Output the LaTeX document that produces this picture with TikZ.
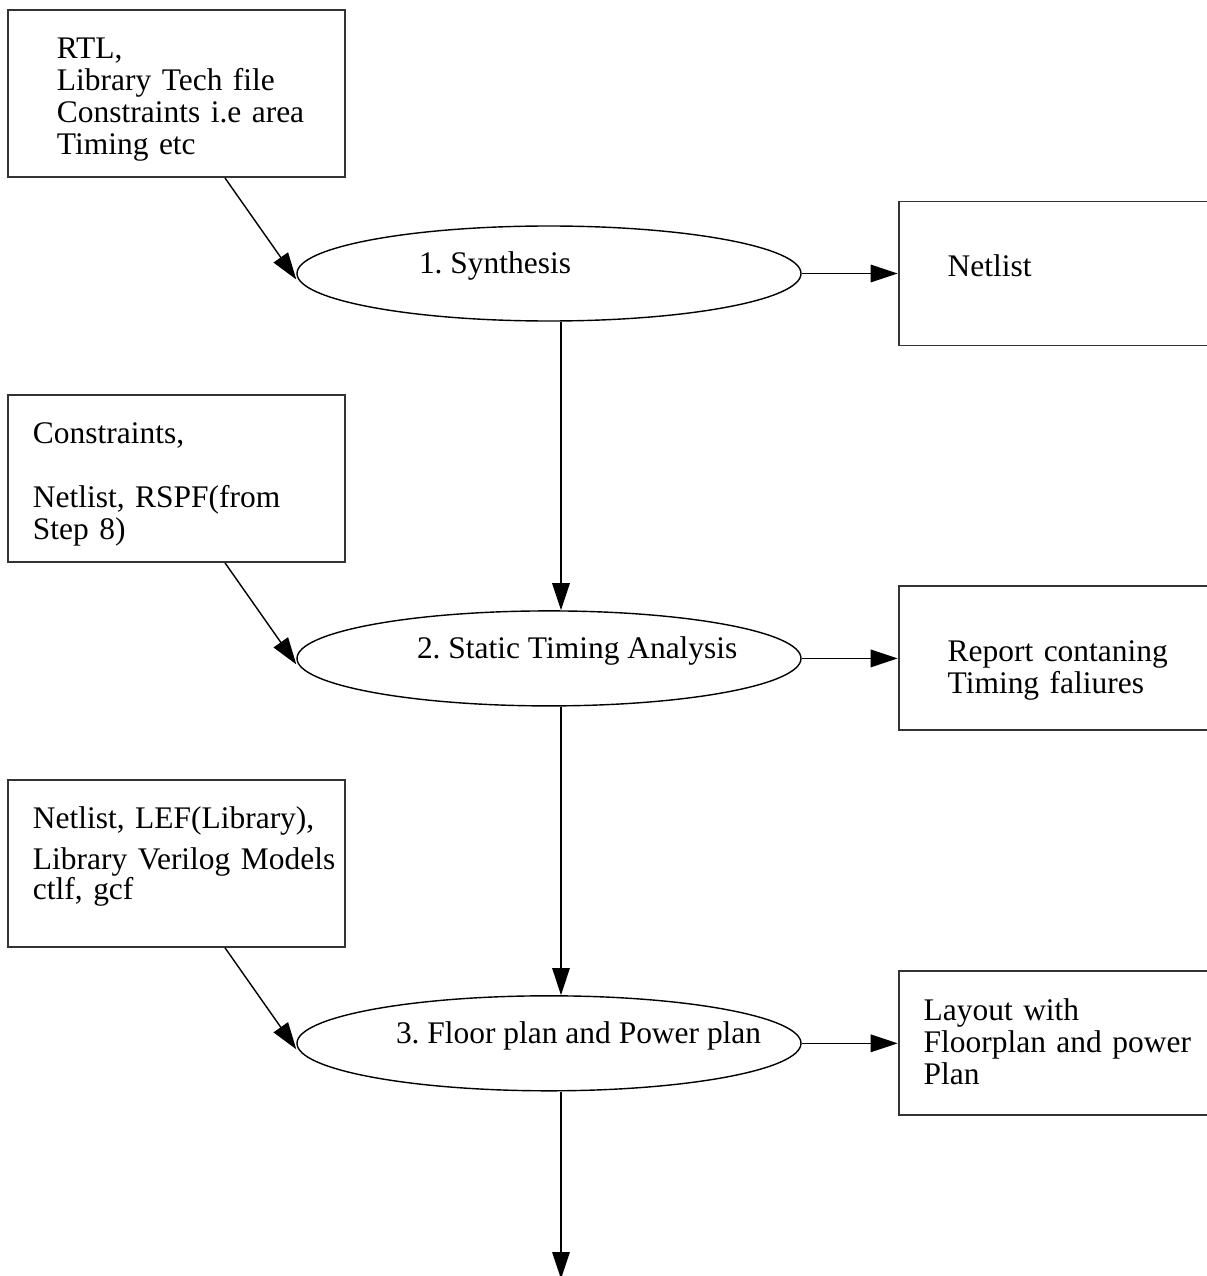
\documentclass[tikz,border=0pt]{standalone}
\usepackage{fontspec}
\setmainfont{Liberation Serif}
\frenchspacing
\usetikzlibrary{shapes, arrows.meta, positioning}
\tikzstyle{stage} = [ellipse, draw=black, line width=0.8pt, minimum width=10.08cm, minimum height=1.9cm, inner sep=0pt, text height=0pt, text depth=0pt]
\tikzstyle{inbox} = [rectangle, draw=black!80, line width=1.1pt, minimum width=6.74cm, inner sep=0pt, text height=0.98cm, text depth=2.36cm, align=left]
\tikzstyle{outbox} = [rectangle, draw=black!80, line width=1.1pt, minimum width=6.4cm, inner sep=0pt, text height=1.5cm, text depth=1.38cm, text width=4.44cm, align=left]
\tikzstyle{flow} = [line width=0.8pt, -{Triangle[length=0.54cm, width=0.35cm]}]

\begin{document}
\begin{tikzpicture}[node distance=5.77cm, font=\fontsize{17.9}{18.2}\selectfont]
\useasboundingbox (-10.98,-20.05) rectangle (13.16,5.47);

\node (e1) [stage] {\makebox[0pt][l]{\hspace{-2.6cm}1. Synthesis}};
\node (e2) [stage, below=of e1] {\makebox[0pt][l]{\hspace{-2.64cm}2. Static Timing Analysis}};
\node (e3) [stage, below=of e2] {\makebox[0pt][l]{\hspace{-3.06cm}3. Floor plan and Power plan}};

\node (b1) [inbox, text width=4.78cm, on grid, above left=3.6cm and 7.45cm of e1] {RTL,\\Library Tech file\\\mbox{Constraints i.e area}\\Timing etc};
\node (b2) [inbox, text width=5.74cm, on grid, above left=3.6cm and 7.45cm of e2] {Constraints,\\[0.64cm]Netlist, RSPF(from\\Step 8)};
\node (b3) [inbox, text width=5.74cm, on grid, above left=3.6cm and 7.45cm of e3] {Netlist, LEF(Library),\\[0.18cm]\mbox{Library Verilog Models}\\[-0.04cm]ctlf, gcf};

\node (r1) [outbox, right=1.92cm of e1] {Netlist};
\node (r2) [outbox, right=1.92cm of e2] {Report contaning\\Timing faliures};
\node (r3) [outbox, text width=5.4cm, text height=0.98cm, text depth=1.9cm, right=1.92cm of e3] {Layout with\\Floorplan and power\\Plan};

\coordinate (out) at ([xshift=0.24cm, yshift=-3.75cm]e3.south);

\draw [flow] ([xshift=0.97cm]b1.south) -- ([yshift=-0.12cm]e1.west);
\draw [flow] ([xshift=0.97cm]b2.south) -- ([yshift=-0.12cm]e2.west);
\draw [flow] ([xshift=0.97cm]b3.south) -- ([yshift=-0.12cm]e3.west);
\draw [flow] (e1) -- (r1);
\draw [flow] (e2) -- (r2);
\draw [flow] (e3) -- (r3);
\draw [flow] ([xshift=0.24cm]e1.south) -- ([xshift=0.24cm]e2.north);
\draw [flow] ([xshift=0.24cm]e2.south) -- ([xshift=0.24cm]e3.north);
\draw [flow] ([xshift=0.24cm]e3.south) -- (out);

\end{tikzpicture}
\end{document}
